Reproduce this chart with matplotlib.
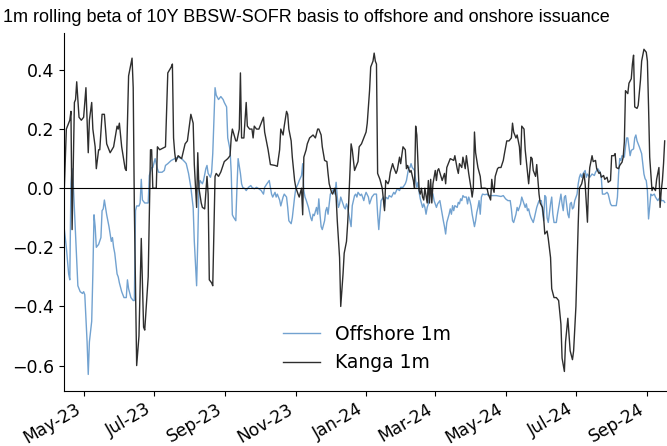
import matplotlib
matplotlib.use("Agg")
import matplotlib.pyplot as plt
import matplotlib.dates as mdates
import pandas as pd

# Rolling 1m beta series, day offsets counted from the first observation
start_date = "2023-04-14"
end_date = "2024-09-18"

kanga_days = [0, 2, 5, 6, 7, 9, 10, 11, 13, 15, 17, 19, 21, 22, 24, 25, 27, 28, 30, 31,
              33, 35, 37, 40, 43, 46, 47, 48, 50, 53, 54, 56, 59, 60, 61, 63, 65, 67, 69, 70,
              73, 75, 76, 77, 80, 81, 83, 88, 90, 93, 94, 95, 96, 97, 99, 102, 105, 107, 110, 112,
              113, 115, 116, 117, 119, 120, 122, 124, 125, 126, 128, 129, 131, 132, 134, 136, 139, 142, 144, 145,
              146, 149, 150, 152, 153, 154, 156, 158, 159, 161, 163, 164, 165, 167, 169, 171, 173, 174, 177, 179,
              183, 185, 187, 188, 190, 191, 193, 194, 195, 197, 198, 200, 201, 203, 204, 206, 207, 208, 210, 211,
              213, 216, 218, 220, 221, 223, 224, 226, 228, 229, 230, 232, 233, 235, 236, 237, 239, 240, 242, 243,
              245, 246, 247, 249, 250, 252, 253, 255, 256, 258, 259, 260, 262, 263, 265, 266, 268, 269, 270, 271,
              272, 274, 276, 278, 279, 281, 282, 283, 285, 286, 288, 289, 291, 292, 294, 296, 297, 298, 300, 301,
              303, 304, 305, 306, 308, 309, 310, 311, 312, 313, 315, 316, 317, 318, 319, 320, 322, 323, 324, 325,
              327, 328, 330, 331, 332, 334, 335, 338, 339, 341, 342, 343, 345, 346, 348, 349, 351, 353, 354, 355,
              356, 357, 359, 361, 362, 365, 367, 368, 370, 371, 372, 373, 374, 376, 377, 379, 381, 382, 384, 386,
              388, 389, 390, 392, 393, 395, 396, 397, 399, 400, 402, 403, 405, 406, 407, 409, 410, 412, 413, 415,
              416, 417, 419, 420, 422, 423, 425, 427, 429, 431, 432, 434, 435, 437, 439, 441, 442, 444, 446, 447,
              449, 451, 452, 454, 455, 456, 458, 459, 461, 462, 464, 465, 466, 468, 469, 471, 472, 474, 475, 477,
              478, 479, 481, 482, 484, 485, 486, 487, 489, 490, 492, 493, 494, 495, 497, 498, 500, 501, 503, 505,
              506, 507, 508, 510, 511, 513, 514, 516, 517, 518, 519, 520, 521]
kanga_vals = [-0.03, 0.20, 0.23, 0.26, -0.14, 0.29, 0.30, 0.36, 0.24, 0.23, 0.24, 0.34, 0.12, 0.23, 0.29, 0.20, 0.14, 0.066, 0.13, 0.13,
              0.25, 0.25, 0.15, 0.12, 0.14, 0.21, 0.20, 0.22, 0.14, 0.066, 0.06, 0.38, 0.44, 0.34, -0.07, -0.60, -0.50, -0.17, -0.47, -0.48,
              -0.30, 0.13, 0.13, 0.0, 0.0, 0.14, 0.13, 0.14, 0.39, 0.41, 0.42, 0.17, 0.12, 0.09, 0.11, 0.10, 0.15, 0.16, 0.25, 0.22,
              0.08, -0.065, 0.12, 0.0, -0.05, -0.065, -0.07, 0.04, -0.02, -0.31, -0.32, -0.33, 0.04, 0.05, 0.04, 0.055, 0.09, 0.10, 0.11, 0.17,
              0.20, 0.16, 0.16, 0.20, 0.39, 0.17, 0.17, 0.29, 0.21, 0.20, 0.20, 0.17, 0.21, 0.20, 0.20, 0.22, 0.24, 0.19, 0.13, 0.08,
              0.077, 0.074, 0.13, 0.20, 0.18, 0.21, 0.26, 0.25, 0.20, 0.16, 0.105, 0.026, 0.003, -0.02, -0.03, 0.0, -0.09, 0.105, 0.13, 0.15,
              0.17, 0.18, 0.17, 0.20, 0.20, 0.18, 0.14, 0.094, 0.09, 0.05, 0.015, -0.014, -0.02, 0.0, -0.03, -0.11, -0.235, -0.40, -0.29, -0.22,
              -0.18, -0.12, -0.04, 0.15, 0.13, 0.06, 0.07, 0.09, 0.14, 0.15, 0.16, 0.17, 0.19, 0.22, 0.33, 0.41, 0.43, 0.457, 0.43, 0.42,
              0.05, 0.03, 0.0, -0.076, 0.026, 0.015, 0.026, 0.054, 0.083, 0.07, 0.05, 0.06, 0.105, 0.083, 0.14, 0.13, 0.066, 0.077, 0.054, 0.06,
              0.026, 0.0, 0.21, 0.18, -0.008, -0.02, 0.0, -0.03, -0.04, 0.0, -0.05, 0.026, -0.05, 0.03, -0.05, 0.015, 0.06, 0.026, 0.06, 0.066,
              0.04, 0.026, 0.05, 0.015, 0.07, 0.09, 0.10, 0.094, 0.11, 0.066, 0.05, 0.083, 0.07, 0.105, 0.066, 0.11, 0.05, 0.0, -0.03, 0.0,
              0.19, 0.12, 0.07, 0.04, 0.0, 0.0, -0.002, -0.02, -0.04, 0.03, 0.0, -0.014, 0.04, 0.066, 0.07, 0.07, 0.094, 0.117, 0.16, 0.16,
              0.17, 0.22, 0.19, 0.17, 0.18, 0.14, 0.08, 0.21, 0.20, 0.13, 0.054, 0.015, 0.105, 0.10, 0.06, 0.04, 0.08, -0.02, -0.05, -0.065,
              -0.10, -0.155, -0.145, -0.17, -0.235, -0.34, -0.37, -0.37, -0.38, -0.46, -0.575, -0.62, -0.52, -0.44, -0.55, -0.58, -0.55, -0.40, -0.12, 0.0,
              0.015, 0.05, 0.015, -0.115, 0.015, 0.07, 0.11, 0.09, 0.094, 0.066, 0.05, 0.054, 0.037, 0.043, 0.03, 0.037, 0.02, 0.026, 0.11, 0.11,
              0.117, 0.07, 0.066, 0.077, 0.088, 0.105, 0.156, 0.33, 0.32, 0.355, 0.37, 0.42, 0.45, 0.275, 0.27, 0.28, 0.366, 0.43, 0.47, 0.46,
              0.43, 0.275, 0.105, -0.008, 0.003, -0.008, 0.03, 0.07, -0.065, -0.008, 0.026, 0.083, 0.16]

offshore_days = [0, 2, 4, 5, 6, 7, 8, 10, 11, 12, 14, 16, 17, 18, 20, 21, 22, 24, 25, 26,
                 27, 28, 30, 32, 33, 34, 35, 37, 39, 40, 41, 42, 43, 44, 46, 47, 48, 50, 52, 54,
                 55, 56, 58, 60, 61, 62, 63, 65, 66, 67, 68, 70, 72, 73, 74, 76, 77, 79, 81, 82,
                 85, 87, 88, 90, 93, 96, 99, 102, 105, 106, 108, 110, 112, 113, 115, 116, 117, 118, 120, 121,
                 123, 124, 125, 127, 128, 129, 131, 132, 134, 136, 138, 139, 141, 142, 144, 145, 146, 147, 149, 150,
                 151, 153, 154, 155, 157, 158, 160, 162, 163, 165, 167, 169, 171, 173, 174, 176, 178, 180, 181, 183,
                 184, 185, 187, 188, 190, 191, 193, 194, 195, 197, 198, 200, 201, 203, 204, 206, 207, 208, 209, 210,
                 212, 214, 215, 216, 217, 219, 220, 221, 222, 223, 224, 226, 227, 228, 229, 230, 231, 232, 234, 235,
                 236, 237, 238, 239, 240, 242, 243, 244, 245, 246, 247, 249, 250, 251, 252, 253, 254, 255, 257, 258,
                 259, 260, 261, 262, 264, 265, 266, 267, 268, 269, 271, 272, 273, 274, 275, 277, 278, 279, 281, 282,
                 284, 286, 287, 289, 291, 292, 294, 296, 297, 299, 300, 301, 302, 304, 305, 306, 307, 308, 309, 311,
                 312, 313, 314, 315, 316, 317, 319, 320, 321, 322, 323, 324, 326, 327, 328, 329, 330, 331, 332, 334,
                 335, 336, 337, 338, 339, 341, 342, 343, 344, 345, 346, 347, 349, 350, 351, 352, 353, 354, 356, 357,
                 358, 359, 360, 361, 362, 363, 365, 367, 368, 372, 375, 379, 381, 383, 385, 387, 388, 389, 390, 392,
                 393, 394, 395, 396, 397, 399, 400, 401, 402, 403, 404, 405, 407, 408, 409, 410, 411, 412, 414, 415,
                 416, 417, 418, 419, 420, 422, 423, 424, 425, 426, 427, 428, 430, 431, 432, 433, 434, 435, 437, 438,
                 439, 440, 441, 442, 443, 445, 446, 447, 448, 449, 450, 452, 453, 454, 456, 458, 460, 461, 463, 465,
                 466, 467, 469, 471, 472, 474, 475, 477, 479, 480, 481, 482, 483, 484, 486, 487, 488, 489, 490, 491,
                 492, 494, 495, 496, 497, 498, 499, 501, 502, 503, 504, 505, 506, 507, 509, 510, 512, 513, 515, 517,
                 518, 520, 521]
offshore_vals = [-0.13, -0.20, -0.29, -0.31, 0.015, 0.066, 0.015, -0.155, -0.245, -0.33, -0.35, -0.356, -0.35, -0.36, -0.52, -0.63, -0.52, -0.45, -0.29, -0.09,
                 -0.13, -0.20, -0.19, -0.167, -0.076, -0.07, -0.04, -0.09, -0.13, -0.155, -0.18, -0.167, -0.20, -0.22, -0.29, -0.30, -0.32, -0.35, -0.37, -0.37,
                 -0.31, -0.34, -0.37, -0.38, -0.38, -0.076, -0.06, -0.06, -0.05, 0.03, -0.04, -0.05, -0.05, -0.05, 0.043, 0.07, 0.07, 0.10, 0.066, 0.054,
                 0.054, 0.06, 0.077, 0.083, 0.094, 0.10, 0.105, 0.10, 0.088, 0.083, 0.05, 0.003, -0.065, -0.18, -0.33, -0.18, 0.003, 0.026, 0.015, 0.026,
                 0.066, 0.077, 0.05, 0.037, 0.054, 0.117, 0.34, 0.315, 0.30, 0.31, 0.30, 0.29, 0.275, 0.17, 0.13, 0.054, -0.09, -0.098, -0.11, 0.003,
                 0.10, 0.05, 0.015, 0.003, -0.002, -0.008, 0.003, 0.009, 0.003, -0.002, 0.003, -0.002, -0.008, -0.02, 0.003, 0.015, 0.026, -0.02, -0.03, -0.014,
                 -0.03, -0.02, -0.04, -0.06, -0.03, -0.02, -0.03, -0.065, -0.11, -0.12, -0.10, -0.03, -0.002, 0.015, 0.026, 0.043, 0.083, -0.008, -0.03, -0.04,
                 -0.065, -0.10, -0.11, -0.088, -0.093, -0.065, -0.088, -0.036, -0.088, -0.13, -0.14, -0.11, -0.076, -0.065, -0.088, -0.053, -0.02, -0.014, -0.002, -0.02,
                 0.02, -0.03, -0.065, -0.053, -0.03, -0.053, -0.065, -0.07, -0.053, -0.065, -0.088, -0.13, -0.059, -0.042, -0.025, -0.02, -0.03, -0.014, -0.025, -0.02,
                 -0.03, -0.042, -0.025, -0.014, -0.03, -0.053, -0.042, -0.03, -0.025, -0.02, -0.02, -0.088, -0.14, -0.088, -0.042, -0.03, -0.065, -0.03, -0.036, -0.025,
                 -0.03, -0.014, -0.02, -0.002, -0.008, 0.003, 0.003, 0.015, 0.026, 0.07, 0.07, 0.083, 0.07, 0.06, 0.026, 0.003, 0.02, -0.014, -0.036, -0.065,
                 -0.053, -0.065, -0.088, -0.065, -0.053, -0.03, -0.014, -0.02, -0.042, -0.053, -0.065, -0.053, -0.042, -0.065, -0.088, -0.11, -0.13, -0.155, -0.116, -0.088,
                 -0.07, -0.088, -0.059, -0.076, -0.059, -0.065, -0.048, -0.053, -0.036, -0.042, -0.025, -0.03, -0.03, -0.053, -0.03, -0.042, -0.059, -0.088, -0.13, -0.11,
                 -0.082, -0.065, -0.042, -0.088, -0.03, -0.02, -0.022, -0.02, -0.025, -0.025, -0.025, -0.028, -0.025, -0.036, -0.042, -0.042, -0.07, -0.11, -0.116, -0.088,
                 -0.065, -0.076, -0.065, -0.053, -0.03, -0.053, -0.065, -0.053, -0.076, -0.07, -0.088, -0.10, -0.116, -0.10, -0.082, -0.065, -0.053, -0.042, -0.042, -0.076,
                 -0.11, -0.025, -0.03, -0.10, -0.116, -0.053, -0.03, -0.088, -0.116, -0.116, -0.116, -0.088, -0.042, -0.02, -0.053, -0.076, -0.03, -0.025, -0.088, -0.10,
                 -0.053, -0.048, -0.07, -0.065, -0.042, -0.02, 0.015, 0.037, 0.048, 0.037, 0.048, 0.06, 0.037, 0.048, 0.037, 0.048, 0.043, 0.054, 0.066, 0.054,
                 0.037, -0.02, -0.02, -0.014, -0.02, -0.053, -0.059, -0.059, -0.059, -0.03, 0.048, 0.10, 0.094, 0.11, 0.105, 0.14, 0.17, 0.17, 0.14, 0.11,
                 0.128, 0.133, 0.17, 0.18, 0.16, 0.15, 0.14, 0.117, 0.083, 0.048, 0.032, 0.026, -0.008, -0.104, -0.02, -0.025, -0.02, -0.03, -0.042, -0.03,
                 -0.042, -0.042, -0.048]

title = "1m rolling beta of 10Y BBSW-SOFR basis to offshore and onshore issuance"

t0 = pd.Timestamp(start_date)
kanga_dates = t0 + pd.to_timedelta(kanga_days, unit="D")
offshore_dates = t0 + pd.to_timedelta(offshore_days, unit="D")

fig = plt.figure(figsize=(6.67, 4.46), dpi=100)
ax = fig.add_axes([0.096, 0.124, 0.904, 0.802])

ax.plot(offshore_dates, offshore_vals, color="#72a2d0", lw=1.0, label="Offshore 1m")
ax.plot(kanga_dates, kanga_vals, color="#2e2e2e", lw=1.0, label="Kanga 1m")
ax.axhline(0, color="black", lw=0.8)

ax.set_xlim(t0, pd.Timestamp(end_date))
ax.set_ylim(-0.685, 0.525)
ax.set_yticks([-0.6, -0.4, -0.2, 0.0, 0.2, 0.4])
ax.tick_params(axis="y", labelsize=12.5)
ax.xaxis.set_major_locator(mdates.MonthLocator(bymonth=[1, 3, 5, 7, 9, 11]))
ax.xaxis.set_major_formatter(mdates.DateFormatter("%b-%y"))
plt.setp(ax.get_xticklabels(), rotation=30, ha="right", fontsize=12.3)
for side in ("top", "right"):
    ax.spines[side].set_visible(False)

ax.legend(loc="upper left", bbox_to_anchor=(0.413, 0.288), bbox_transform=fig.transFigure,
          frameon=False, fontsize=13.5, borderaxespad=0)

fig.text(0.005, 0.96, title, family=["Liberation Sans", "DejaVu Sans"],
         fontsize=13, ha="left", va="center")

fig.savefig("out.png", dpi=100)
